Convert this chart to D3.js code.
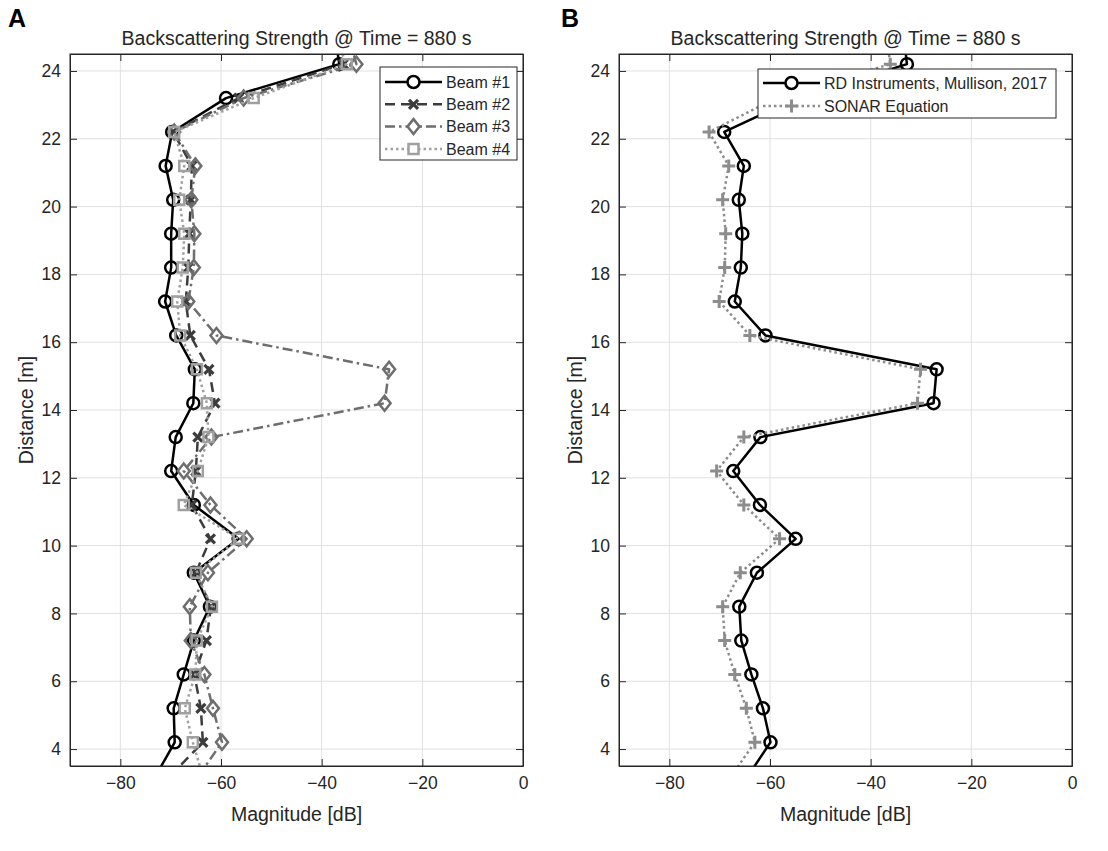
<!DOCTYPE html>
<html lang="en">
<head>
	<meta charset="utf-8">
	<title>Backscattering Strength</title>
	<script src="https://d3js.org/d3.v7.min.js"></script>
	<style>
	body { margin: 0; background: #fff; }
	text { font-family: "Liberation Sans", Arial, sans-serif; fill: #262626; }
	.grid line { stroke: #e0e0e0; stroke-width: 1; }
	.axis path, .axis line { stroke: #262626; stroke-width: 1; }
	.axis text { font-size: 17.5px; }
	</style>
</head>
<body>
	<script>
		// distance of each bin [m] (first and last bins fall outside the axes and get clipped)
		var distance = [3.2, 4.2, 5.2, 6.2, 7.2, 8.2, 9.2, 10.2, 11.2, 12.2, 13.2, 14.2,
		                15.2, 16.2, 17.2, 18.2, 19.2, 20.2, 21.2, 22.2, 23.2, 24.2, 25.2];

		// panel A, magnitude [dB] per beam
		var beam1 = [-73.0, -69.2, -69.4, -67.4, -65.4, -62.2, -65.4, -56.5, -65.4, -69.9, -69.0, -65.5,
		             -65.2, -68.9, -71.1, -69.9, -69.9, -69.5, -71.0, -69.7, -59.0, -36.5, -37.5];
		var beam2 = [-70.1, -63.6, -64.0, -65.3, -62.9, -62.0, -65.0, -62.1, -65.8, -65.0, -64.6, -61.2,
		             -62.4, -66.1, -67.0, -66.5, -66.3, -66.0, -65.8, -69.5, -56.5, -35.7, -37.0];
		var beam3 = [-64.5, -59.8, -61.6, -63.3, -66.0, -66.2, -62.6, -54.9, -62.1, -67.4, -61.9, -27.5,
		             -26.6, -60.9, -66.5, -65.4, -65.3, -65.9, -65.1, -69.3, -55.5, -33.1, -35.0];
		var beam4 = [-63.6, -65.6, -67.2, -65.1, -64.8, -61.8, -65.0, -56.5, -67.4, -64.6, -62.5, -62.8,
		             -64.8, -68.1, -68.7, -67.6, -67.3, -68.3, -67.3, -69.3, -53.5, -35.0, -38.0];

		// panel B
		var rdInstruments = [-64.4, -59.9, -61.4, -63.7, -65.7, -66.1, -62.6, -54.9, -62.0, -67.3, -61.9, -27.5,
		                     -26.9, -60.9, -67.0, -65.8, -65.5, -66.2, -65.2, -69.1, -54.7, -32.8, -33.5];
		var sonarEquation = [-67.7, -63.0, -64.7, -67.0, -69.0, -69.4, -65.9, -58.1, -65.2, -70.6, -65.2, -30.7,
		                     -30.1, -64.0, -70.1, -69.0, -68.8, -69.4, -68.2, -72.1, -58.8, -36.1, -37.0];

		var xTicks = [-80, -60, -40, -20, 0];
		var yTicks = [4, 6, 8, 10, 12, 14, 16, 18, 20, 22, 24];
		var titleText = "Backscattering Strength @ Time = 880 s";

		var w = 1108;
		var h = 851;
		var pw = 453, ph = 712;

		var svg = d3.select("body")
					.append("svg")
					.attr("width", w)
					.attr("height", h);

		var x = d3.scaleLinear().domain([-90, 0]).range([0, pw]);
		var y = d3.scaleLinear().domain([3.5, 24.5]).range([ph, 0]);

		// marker glyphs, centred on 0,0
		var markerPath = {
			circle: "M-6,0a6,6 0 1,0 12,0a6,6 0 1,0 -12,0",
			cross: "M-4.5,-4.5L4.5,4.5M-4.5,4.5L4.5,-4.5",
			diamond: "M0,-7.5L6,0L0,7.5L-6,0Z",
			square: "M-5,-5H5V5H-5Z",
			plus: "M-6.5,0H6.5M0,-6.5V6.5"
		};

		var panelA = [
			{ name: "Beam #1", values: beam1, color: "#000000", dash: null, marker: "circle", mw: 2.5 },
			{ name: "Beam #2", values: beam2, color: "#3c3c3c", dash: "10,6", marker: "cross", mw: 3.2 },
			{ name: "Beam #3", values: beam3, color: "#6e6e6e", dash: "10,4,2.5,4", marker: "diamond", mw: 2.5 },
			{ name: "Beam #4", values: beam4, color: "#a0a0a0", dash: "2.5,3", marker: "square", mw: 2.5 }
		];
		var panelB = [
			{ name: "RD Instruments, Mullison, 2017", values: rdInstruments, color: "#000000", dash: null, marker: "circle", mw: 2.5 },
			{ name: "SONAR Equation", values: sonarEquation, color: "#8c8c8c", dash: "2.5,3", marker: "plus", mw: 3 }
		];

		var line = d3.line()
			.x(function(d) { return x(d[1]); })
			.y(function(d) { return y(d[0]); });

		function drawPanel(id, ox, oy, letter, letterX, series, leg) {
			var g = svg.append("g").attr("transform", "translate(" + ox + "," + oy + ")");

			g.append("clipPath").attr("id", "clip" + id)
			  .append("rect").attr("width", pw).attr("height", ph);

			// grid
			var grid = g.append("g").attr("class", "grid");
			grid.selectAll(".gx").data(xTicks).enter().append("line")
				.attr("x1", function(d) { return x(d); }).attr("x2", function(d) { return x(d); })
				.attr("y1", 0).attr("y2", ph);
			grid.selectAll(".gy").data(yTicks).enter().append("line")
				.attr("y1", function(d) { return y(d); }).attr("y2", function(d) { return y(d); })
				.attr("x1", 0).attr("x2", pw);

			// series
			var plot = g.append("g").attr("clip-path", "url(#clip" + id + ")");
			series.forEach(function(s) {
				var pts = d3.zip(distance, s.values);
				plot.append("path")
					.datum(pts)
					.attr("d", line)
					.attr("fill", "none")
					.attr("stroke", s.color)
					.attr("stroke-width", 2.5)
					.attr("stroke-linejoin", "round")
					.attr("stroke-dasharray", s.dash);
				plot.selectAll(null).data(pts).enter().append("path")
					.attr("transform", function(d) { return "translate(" + x(d[1]) + "," + y(d[0]) + ")"; })
					.attr("d", markerPath[s.marker])
					.attr("fill", "none")
					.attr("stroke", s.color)
					.attr("stroke-width", s.mw);
			});

			// axes, ticks pointing inward on all four sides
			g.append("g").attr("class", "axis")
				.attr("transform", "translate(0," + ph + ")")
				.call(d3.axisBottom(x).tickValues(xTicks).tickSizeInner(-7).tickSizeOuter(0).tickPadding(11));
			g.append("g").attr("class", "axis")
				.call(d3.axisTop(x).tickValues(xTicks).tickSizeInner(-7).tickSizeOuter(0).tickFormat(""));
			g.append("g").attr("class", "axis")
				.call(d3.axisLeft(y).tickValues(yTicks).tickSizeInner(-7).tickSizeOuter(0).tickPadding(9));
			g.append("g").attr("class", "axis")
				.attr("transform", "translate(" + pw + ",0)")
				.call(d3.axisRight(y).tickValues(yTicks).tickSizeInner(-7).tickSizeOuter(0).tickFormat(""));

			g.append("rect")
				.attr("width", pw).attr("height", ph)
				.attr("fill", "none").attr("stroke", "#262626").attr("stroke-width", 1);

			// titles and labels
			g.append("text")
				.attr("x", pw / 2).attr("y", -9)
				.attr("text-anchor", "middle")
				.style("font-size", "19.5px")
				.text(titleText);
			g.append("text")
				.attr("x", pw / 2).attr("y", ph + 55)
				.attr("text-anchor", "middle")
				.style("font-size", "19.5px")
				.text("Magnitude [dB]");
			g.append("text")
				.attr("transform", "translate(-37," + ph / 2 + ") rotate(-90)")
				.attr("text-anchor", "middle")
				.style("font-size", "19.5px")
				.text("Distance [m]");
			svg.append("text")
				.attr("x", letterX).attr("y", 27)
				.style("font-size", "25px")
				.style("font-weight", "bold")
				.style("fill", "#000")
				.text(letter);

			// legend
			var lg = g.append("g").attr("transform", "translate(" + leg.x + "," + leg.y + ")");
			lg.append("rect")
				.attr("width", leg.w).attr("height", leg.h)
				.attr("fill", "#fff").attr("stroke", "#262626").attr("stroke-width", 1);
			series.forEach(function(s, i) {
				var ly = leg.first + i * leg.step;
				lg.append("line")
					.attr("x1", 5).attr("x2", 62).attr("y1", ly).attr("y2", ly)
					.attr("stroke", s.color).attr("stroke-width", 2.5)
					.attr("stroke-dasharray", s.dash);
				lg.append("path")
					.attr("transform", "translate(33.5," + ly + ")")
					.attr("d", markerPath[s.marker])
					.attr("fill", "#fff")
					.attr("stroke", s.color)
					.attr("stroke-width", s.mw);
				lg.append("text")
					.attr("x", 66).attr("y", ly)
					.attr("dy", "0.36em")
					.style("font-size", "16px")
					.text(s.name);
			});
		}

		drawPanel("A", 70, 54, "A", 8, panelA, { x: 310, y: 13, w: 137, h: 93, first: 15, step: 22.3 });
		drawPanel("B", 619, 54, "B", 561, panelB, { x: 139, y: 15, w: 298, h: 49, first: 14, step: 23 });
	</script>
</body>
</html>
